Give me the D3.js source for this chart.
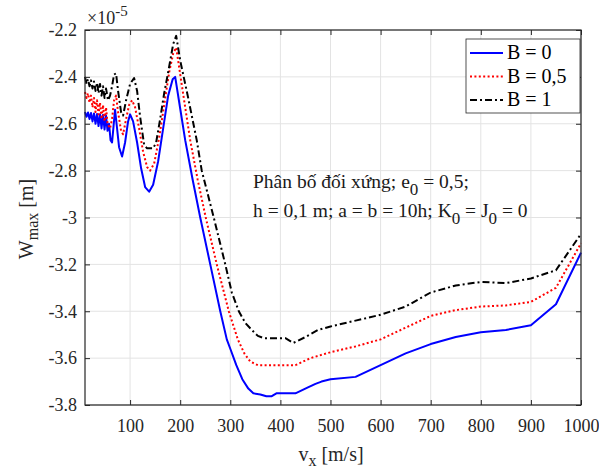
<!DOCTYPE html>
<html>
<head>
<meta charset="utf-8">
<script src="https://cdn.jsdelivr.net/npm/d3@7"></script>
<style>
  body { margin: 0; background: #fff; }
</style>
</head>
<body>
<svg id="chart" width="599" height="469"></svg>
<script>
const width = 599;
const height = 469;
const serif = "'Liberation Serif', 'Times New Roman', serif";

// values are in units of 1e-5 m
const xTicks = [100, 200, 300, 400, 500, 600, 700, 800, 900, 1000];
const yTicks = [-3.8, -3.6, -3.4, -3.2, -3, -2.8, -2.6, -2.4, -2.2];
const legendNames = ["B = 0", "B = 0,5", "B = 1"];

// B = 0
const seriesB0 = [
  [10,-2.55],[13,-2.57],[16,-2.552],[19,-2.58],[22,-2.554],[25,-2.59],[28,-2.556],[31,-2.60],
  [34,-2.558],[37,-2.61],[40,-2.56],[43,-2.62],[46,-2.562],[49,-2.625],[52,-2.565],[55,-2.63],
  [58,-2.60],[61,-2.67],[64,-2.68],[67,-2.61],[70,-2.54],[73,-2.60],[78,-2.70],[84,-2.74],
  [90,-2.68],[96,-2.59],[100,-2.56],[106,-2.59],[114,-2.68],[122,-2.79],[130,-2.87],[138,-2.89],
  [146,-2.86],[156,-2.76],[166,-2.62],[176,-2.48],[185,-2.41],[190,-2.40],[200,-2.535],[210,-2.67],
  [225,-2.84],[240,-3.0],[260,-3.2],[280,-3.4],[293,-3.52],[300,-3.56],[312,-3.63],[324,-3.69],
  [336,-3.73],[346,-3.75],[360,-3.755],[372,-3.763],[382,-3.763],[392,-3.75],[430,-3.75],[455,-3.725],
  [470,-3.71],[482,-3.70],[500,-3.69],[550,-3.68],[600,-3.63],[650,-3.58],[700,-3.54],[750,-3.51],
  [800,-3.49],[850,-3.48],[900,-3.46],[950,-3.37],[1000,-3.15]
];

// B = 0,5
const seriesB05 = [
  [10,-2.465],[13,-2.49],[16,-2.47],[19,-2.51],[22,-2.48],[25,-2.53],[28,-2.49],[31,-2.55],
  [34,-2.50],[37,-2.56],[40,-2.51],[43,-2.58],[46,-2.52],[49,-2.59],[52,-2.53],[55,-2.60],
  [60,-2.62],[64,-2.58],[68,-2.50],[72,-2.48],[76,-2.55],[82,-2.63],[86,-2.645],[92,-2.58],
  [98,-2.52],[104,-2.50],[110,-2.53],[118,-2.62],[126,-2.72],[134,-2.785],[140,-2.80],[148,-2.77],
  [158,-2.66],[168,-2.52],[178,-2.38],[186,-2.30],[192,-2.275],[205,-2.46],[220,-2.67],[235,-2.84],
  [251,-3.0],[273,-3.2],[297,-3.4],[315,-3.52],[328,-3.58],[340,-3.615],[355,-3.63],[430,-3.63],
  [460,-3.60],[500,-3.575],[550,-3.55],[600,-3.52],[650,-3.47],[700,-3.42],[750,-3.395],[800,-3.38],
  [850,-3.375],[900,-3.36],[950,-3.30],[1000,-3.11]
];

// B = 1
const seriesB1 = [
  [10,-2.40],[13,-2.43],[16,-2.41],[19,-2.44],[22,-2.415],[25,-2.45],[28,-2.42],[31,-2.46],
  [34,-2.425],[37,-2.47],[40,-2.43],[43,-2.48],[46,-2.44],[49,-2.49],[52,-2.45],[56,-2.50],
  [60,-2.48],[64,-2.44],[68,-2.39],[72,-2.385],[76,-2.46],[82,-2.55],[86,-2.565],[92,-2.50],
  [100,-2.43],[108,-2.405],[114,-2.46],[120,-2.57],[128,-2.69],[134,-2.705],[146,-2.705],[152,-2.68],
  [160,-2.58],[168,-2.47],[176,-2.38],[186,-2.26],[192,-2.225],[200,-2.33],[215,-2.48],[233,-2.67],
  [243,-2.8],[267,-3.0],[290,-3.2],[303,-3.32],[317,-3.4],[330,-3.45],[343,-3.48],[355,-3.505],
  [367,-3.515],[410,-3.515],[426,-3.535],[450,-3.51],[475,-3.48],[500,-3.465],[550,-3.44],[600,-3.415],
  [650,-3.38],[700,-3.32],[750,-3.29],[800,-3.275],[850,-3.28],[900,-3.26],[950,-3.225],[1000,-3.07]
];

const styles = [
  {color: "#0000ff", dash: null},
  {color: "#ff0000", dash: "2,2.4"},
  {color: "#000000", dash: "7,3,2,3"}
];

const plot = {left: 85, right: 581, top: 30, bottom: 405};
const axisColor = "#262626";

const svg = d3.select("#chart");

const x = d3.scaleLinear().domain([10, 1000]).range([plot.left, plot.right]);
const y = d3.scaleLinear().domain([-3.8, -2.2]).range([plot.bottom, plot.top]);

// grid
const grid = svg.append("g");
grid.selectAll(".vg").data(xTicks).enter().append("line")
  .attr("x1", d => x(d)).attr("x2", d => x(d))
  .attr("y1", plot.top).attr("y2", plot.bottom)
  .attr("stroke", "#e3e3e3").attr("stroke-width", 1);
grid.selectAll(".hg").data(yTicks).enter().append("line")
  .attr("x1", plot.left).attr("x2", plot.right)
  .attr("y1", d => y(d)).attr("y2", d => y(d))
  .attr("stroke", "#e3e3e3").attr("stroke-width", 1);

// lines
const line = d3.line().x(d => x(d[0])).y(d => y(d[1]));
[seriesB0, seriesB05, seriesB1].forEach(function(s, i){
  svg.append("path")
    .datum(s)
    .attr("fill", "none")
    .attr("stroke", styles[i].color)
    .attr("stroke-width", 2)
    .attr("stroke-dasharray", styles[i].dash)
    .attr("stroke-linejoin", "round")
    .attr("d", line);
});

// axes, ticks pointing inwards like matlab
const fmtY = d => String(+d.toFixed(1));
const xAxis = svg.append("g").attr("transform", `translate(0,${plot.bottom})`)
  .call(d3.axisBottom(x).tickValues(xTicks).tickSizeInner(-5).tickSizeOuter(0).tickPadding(14).tickFormat(d3.format("d")));
const xAxisTop = svg.append("g").attr("transform", `translate(0,${plot.top})`)
  .call(d3.axisTop(x).tickValues(xTicks).tickSizeInner(-5).tickSizeOuter(0).tickFormat(""));
const yAxis = svg.append("g").attr("transform", `translate(${plot.left},0)`)
  .call(d3.axisLeft(y).tickValues(yTicks).tickSizeInner(-5).tickSizeOuter(0).tickPadding(8).tickFormat(fmtY));
const yAxisRight = svg.append("g").attr("transform", `translate(${plot.right},0)`)
  .call(d3.axisRight(y).tickValues(yTicks).tickSizeInner(-5).tickSizeOuter(0).tickFormat(""));

[xAxis, xAxisTop, yAxis, yAxisRight].forEach(function(a){
  a.attr("font-family", serif).attr("font-size", 18);
  a.select(".domain").remove();
  a.selectAll("line").attr("stroke", axisColor);
  a.selectAll("text").attr("fill", axisColor);
});

// box
svg.append("rect")
  .attr("x", plot.left).attr("y", plot.top)
  .attr("width", plot.right - plot.left).attr("height", plot.bottom - plot.top)
  .attr("fill", "none").attr("stroke", axisColor).attr("stroke-width", 1.2);

// exponent label
const expo = svg.append("text")
  .attr("x", 87).attr("y", 24)
  .attr("font-family", serif).attr("font-size", 18)
  .attr("fill", axisColor);
expo.append("tspan").text("×10");
expo.append("tspan").attr("dy", -8).attr("font-size", 15).text("-5");

// axis titles
const xLabel = svg.append("text")
  .attr("x", 331).attr("y", 461)
  .attr("text-anchor", "middle")
  .attr("font-family", serif).attr("font-size", 20)
  .attr("fill", axisColor);
xLabel.append("tspan").text("v");
xLabel.append("tspan").attr("dy", 5).attr("font-size", 16).text("x");
xLabel.append("tspan").attr("dy", -5).text(" [m/s]");

const yLabel = svg.append("text")
  .attr("transform", "translate(33,219) rotate(-90)")
  .attr("text-anchor", "middle")
  .attr("font-family", serif).attr("font-size", 20)
  .attr("fill", axisColor);
yLabel.append("tspan").text("W");
yLabel.append("tspan").attr("dy", 5).attr("font-size", 16).text("max");
yLabel.append("tspan").attr("dy", -5).text(" [m]");

// annotation
const note1 = svg.append("text").attr("x", 253).attr("y", 188)
  .attr("font-family", serif).attr("font-size", 19.5).attr("fill", "#1a1a1a");
note1.append("tspan").text("Phân bố đối xứng; e");
note1.append("tspan").attr("dy", 7).attr("font-size", 17).text("0");
note1.append("tspan").attr("dy", -7).text(" = 0,5;");

const note2 = svg.append("text").attr("x", 253).attr("y", 217)
  .attr("font-family", serif).attr("font-size", 19.5).attr("fill", "#1a1a1a");
note2.append("tspan").text("h = 0,1 m; a = b = 10h; K");
note2.append("tspan").attr("dy", 7).attr("font-size", 17).text("0");
note2.append("tspan").attr("dy", -7).text(" = J");
note2.append("tspan").attr("dy", 7).attr("font-size", 17).text("0");
note2.append("tspan").attr("dy", -7).text(" = 0");

// legend
const legend = svg.append("g");
legend.append("rect")
  .attr("x", 466).attr("y", 39).attr("width", 114).attr("height", 74)
  .attr("fill", "#fff").attr("stroke", axisColor).attr("stroke-width", 0.8);
legendNames.forEach(function(name, i){
  const ly = 53 + i * 23.5;
  legend.append("line")
    .attr("x1", 470).attr("x2", 503).attr("y1", ly).attr("y2", ly)
    .attr("stroke", styles[i].color).attr("stroke-width", 2)
    .attr("stroke-dasharray", styles[i].dash);
  legend.append("text")
    .attr("x", 507).attr("y", ly + 6)
    .attr("font-family", serif).attr("font-size", 20)
    .attr("fill", "#000")
    .text(name);
});
</script>
</body>
</html>
